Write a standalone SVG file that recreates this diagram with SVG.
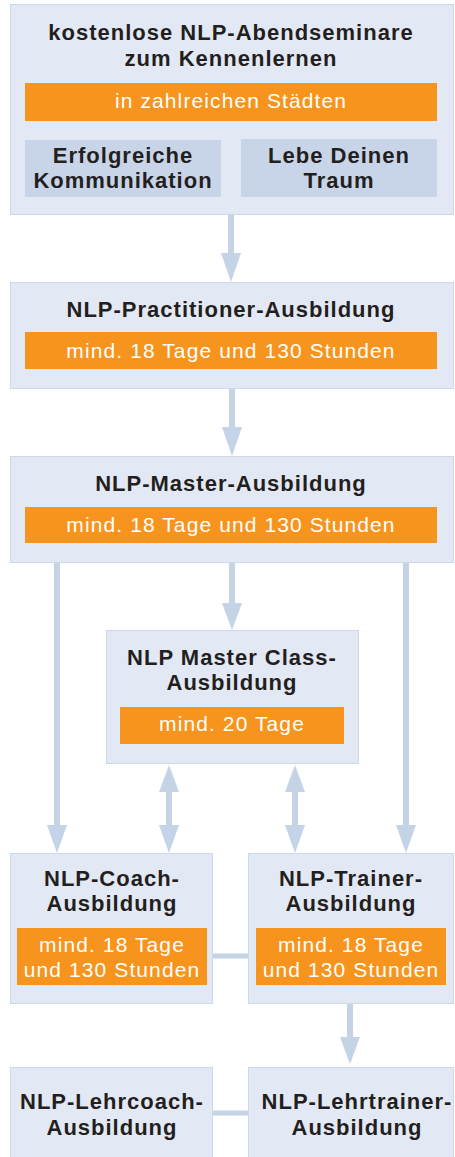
<svg xmlns="http://www.w3.org/2000/svg" width="455" height="1157" viewBox="0 0 455 1157">
<style>
.box{fill:#e3e9f4;stroke:#cdd8ea;stroke-width:1}
.sub{fill:#c8d5e8}
.bar{fill:#f7941d}
.t{font-family:"Liberation Sans",Arial,sans-serif;font-weight:bold;font-size:22px;letter-spacing:1px;fill:#231f20;text-anchor:middle}
.o{font-family:"Liberation Sans",Arial,sans-serif;font-size:21px;letter-spacing:1.1px;fill:#ffffff;text-anchor:middle}
.ln{stroke:#c5d3e6;stroke-width:6;fill:none}
.hd{fill:#c5d3e6}
</style>
<rect width="455" height="1157" fill="#ffffff"/>
<g id="connectors">
<line class="ln" x1="231" y1="215" x2="231" y2="256"/><polygon class="hd" points="221,253 241,253 231,282"/>
<line class="ln" x1="232" y1="389" x2="232" y2="430"/><polygon class="hd" points="222,427 242,427 232,456"/>
<line class="ln" x1="232" y1="563" x2="232" y2="606"/><polygon class="hd" points="222,603 242,603 232,630"/>
<line class="ln" x1="57" y1="563" x2="57" y2="828"/><polygon class="hd" points="47,825 67,825 57,853"/>
<line class="ln" x1="406" y1="563" x2="406" y2="828"/><polygon class="hd" points="396,825 416,825 406,853"/>
<line class="ln" x1="169" y1="790" x2="169" y2="828"/><polygon class="hd" points="159,792 179,792 169,765"/><polygon class="hd" points="159,825 179,825 169,853"/>
<line class="ln" x1="295" y1="790" x2="295" y2="828"/><polygon class="hd" points="285,792 305,792 295,765"/><polygon class="hd" points="285,825 305,825 295,853"/>
<line class="ln" x1="213" y1="956" x2="248" y2="956" style="stroke-width:5"/>
<line class="ln" x1="350" y1="1003" x2="350" y2="1040"/><polygon class="hd" points="340,1037 360,1037 350,1064"/>
<line class="ln" x1="213" y1="1113" x2="248" y2="1113" style="stroke-width:5"/>
</g>
<g id="abendseminare">
<rect class="box" x="10.5" y="4.5" width="443" height="210"/>
<text class="t" x="231" y="40">kostenlose NLP-Abendseminare<tspan x="231" dy="26">zum Kennenlernen</tspan></text>
<rect class="bar" x="25" y="83" width="412" height="38"/>
<text class="o" x="231" y="108">in zahlreichen Städten</text>
<rect class="sub" x="25" y="140" width="196" height="57"/>
<text class="t" x="123" y="163">Erfolgreiche<tspan x="123" dy="25">Kommunikation</tspan></text>
<rect class="sub" x="241" y="139" width="196" height="58"/>
<text class="t" x="339" y="163">Lebe Deinen<tspan x="339" dy="25">Traum</tspan></text>
</g>
<g id="practitioner">
<rect class="box" x="10.5" y="282.5" width="443" height="106"/>
<text class="t" x="231" y="317">NLP-Practitioner-Ausbildung</text>
<rect class="bar" x="25" y="332" width="412" height="37"/>
<text class="o" x="231" y="358">mind. 18 Tage und 130 Stunden</text>
</g>
<g id="master">
<rect class="box" x="10.5" y="456.5" width="443" height="106"/>
<text class="t" x="231" y="491">NLP-Master-Ausbildung</text>
<rect class="bar" x="25" y="507" width="412" height="36"/>
<text class="o" x="231" y="532">mind. 18 Tage und 130 Stunden</text>
</g>
<g id="masterclass">
<rect class="box" x="106.5" y="630.5" width="252" height="133"/>
<text class="t" x="232" y="665">NLP Master Class-<tspan x="232" dy="25">Ausbildung</tspan></text>
<rect class="bar" x="120" y="707" width="224" height="37"/>
<text class="o" x="232" y="731">mind. 20 Tage</text>
</g>
<g id="coach">
<rect class="box" x="10.5" y="853.5" width="202" height="150"/>
<text class="t" x="112" y="886">NLP-Coach-<tspan x="112" dy="25">Ausbildung</tspan></text>
<rect class="bar" x="17" y="928" width="190" height="57"/>
<text class="o" x="112" y="952">mind. 18 Tage<tspan x="112" dy="25">und 130 Stunden</tspan></text>
</g>
<g id="trainer">
<rect class="box" x="248.5" y="853.5" width="205" height="150"/>
<text class="t" x="351" y="886">NLP-Trainer-<tspan x="351" dy="25">Ausbildung</tspan></text>
<rect class="bar" x="256" y="928" width="190" height="57"/>
<text class="o" x="351" y="952">mind. 18 Tage<tspan x="351" dy="25">und 130 Stunden</tspan></text>
</g>
<g id="lehrcoach">
<rect class="box" x="10.5" y="1067.5" width="202" height="100"/>
<text class="t" x="112" y="1109">NLP-Lehrcoach-<tspan x="112" dy="26">Ausbildung</tspan></text>
</g>
<g id="lehrtrainer">
<rect class="box" x="248.5" y="1067.5" width="205" height="100"/>
<text class="t" x="357" y="1109">NLP-Lehrtrainer-<tspan x="357" dy="26">Ausbildung</tspan></text>
</g>
</svg>
